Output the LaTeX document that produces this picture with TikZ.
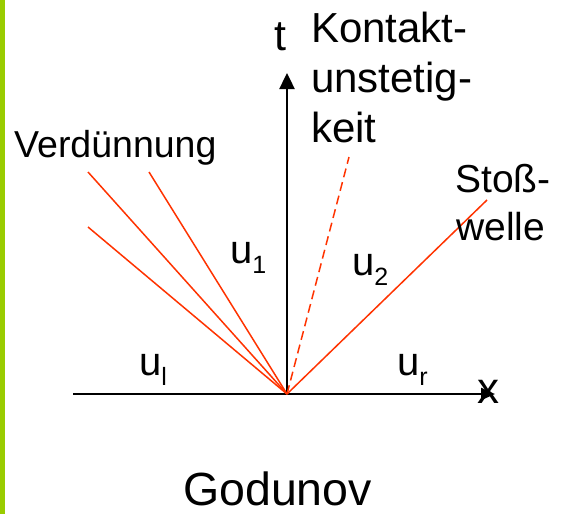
\documentclass[tikz,border=0pt]{standalone}
\usepackage{fontspec}
\setmainfont{Liberation Sans}
\usetikzlibrary{arrows.meta}
\definecolor{barGreen}{RGB}{153,204,0}
\definecolor{waveRed}{RGB}{255,51,0}
\newcommand{\lowsub}[1]{\raisebox{-10pt}{\fontsize{25}{25}\selectfont #1}}
\begin{document}
\begin{tikzpicture}[x=1pt,y=-1pt,
  axis/.style={line width=2.4pt,-{Triangle[length=16pt,width=15pt]}},
  wave/.style={draw=waveRed,line width=1.5pt},
  contact/.style={draw=waveRed,line width=1.5pt,dash pattern=on 9pt off 5pt},
  lbl/.style={inner sep=0pt,anchor=base west},
  ulbl/.style={lbl,font=\fontsize{40}{40}\selectfont}]
\useasboundingbox (0,0) rectangle (562,514);
\fill[white] (0,0) rectangle (562,514);
\fill[barGreen] (0,0) rectangle (4.5,514);
% axes
\coordinate (O) at (287,394);
\coordinate (xl) at (73,394);
\coordinate (xr) at (495,394);
\coordinate (ttop) at (287,73);
\draw[line width=2.4pt] (xl) -- (O);
\draw[axis,-{Triangle[length=14pt,width=12pt]}] (O) -- (xr);
\draw[axis] (O) -- (ttop);
% waves
\coordinate (r1) at (88,172);
\coordinate (r2) at (149,172);
\coordinate (r3) at (88,227);
\coordinate (c1) at (349,157);
\coordinate (s1) at (487,200);
\draw[wave] (O) -- (r1);
\draw[wave] (O) -- (r2);
\draw[wave] (O) -- (r3);
\draw[contact] (O) -- (c1);
\draw[wave] (O) -- (s1);
% labels
\node[inner sep=0pt,font=\fontsize{44}{44}\selectfont] (xlab) at (488.5,392) {x};
\node[lbl,font=\fontsize{43}{43}\selectfont] (tlab) at (274,50) {t};
\node[lbl,font=\fontsize{42}{42}\selectfont] (k1) at (311,42) {Kontakt-};
\node[lbl,font=\fontsize{42}{42}\selectfont] (k2) at (311,92) {unstetig-};
\node[lbl,font=\fontsize{42}{42}\selectfont] (k3) at (311,142) {keit};
\node[lbl,font=\fontsize{37.5}{37.5}\selectfont] (verd) at (14,157) {Verdünnung};
\node[lbl,font=\fontsize{39}{39}\selectfont] (st1) at (455,192) {Stoß-};
\node[lbl,font=\fontsize{39}{39}\selectfont] (st2) at (456,240) {welle};
\node[lbl,font=\fontsize{46.5}{46.5}\selectfont] (god) at (183,505) {Godunov};
\node[ulbl] (ul) at (139,375) {u\lowsub{l}};
\node[ulbl] (u1) at (230,263) {u\lowsub{1}};
\node[ulbl] (u2) at (352,275) {u\lowsub{2}};
\node[ulbl] (ur) at (397,375) {u\lowsub{r}};
\end{tikzpicture}
\end{document}
